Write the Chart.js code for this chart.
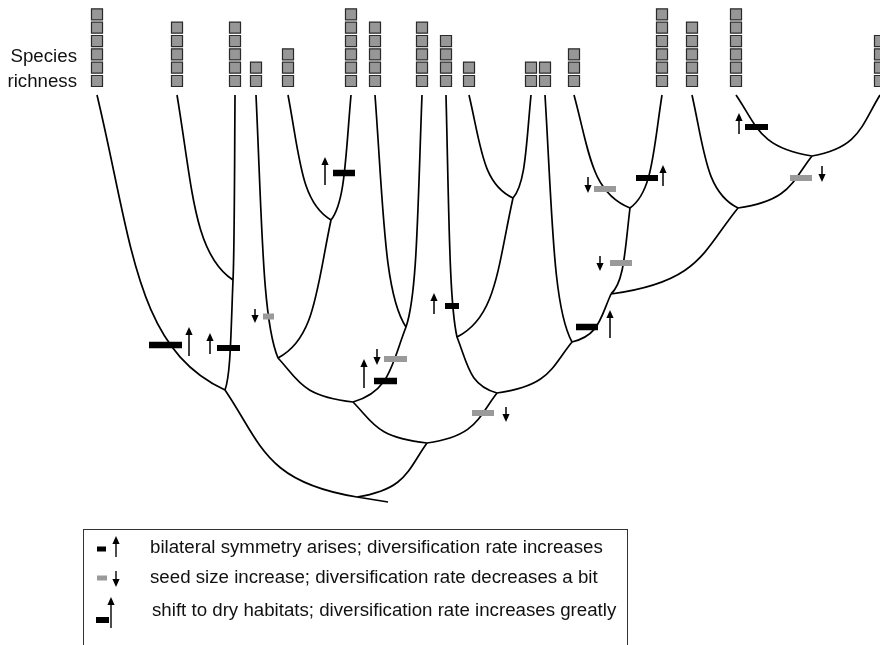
<!DOCTYPE html>
<html>
<head>
<meta charset="utf-8">
<script src="https://cdn.jsdelivr.net/npm/chart.js@4.4.1/dist/chart.umd.min.js"></script>
<style>
  body { margin: 0; background: #fff; }
</style>
</head>
<body>
<canvas id="myChart" width="880" height="645"></canvas>
<script>
// tips, left to right: position and number of species (one square each)
var tipX = [97, 177, 235, 256, 288, 351, 375, 422, 446, 469, 531, 545, 574, 662, 692, 736, 880];
var richness = [6, 5, 5, 2, 3, 6, 5, 5, 4, 2, 2, 2, 3, 6, 5, 6, 4];
var tipParent = ['B', 'A', 'A', 'F', 'H', 'H', 'G', 'G', 'I', 'J', 'J', 'K', 'M', 'M', 'N', 'O', 'O'];

// internal nodes of the tree
var cladeIds = ['A', 'B', 'C', 'D', 'E', 'F', 'G', 'H', 'I', 'J', 'K', 'L', 'M', 'N', 'O', 'root'];
var cladeX = [233, 225, 427, 353, 497, 278, 406, 331, 457, 513, 572, 611, 630, 738, 812, 357];
var cladeY = [280, 390, 443, 402, 393, 358, 327, 220, 337, 198, 342, 294, 208, 208, 156, 497];
var cladeParent = ['B', 'root', 'root', 'C', 'C', 'D', 'D', 'F', 'E', 'I', 'E', 'K', 'L', 'L', 'N', null];
var rootStem = [388, 502];

// character changes on branches: bars [xFrom, xTo, y], arrows [x, yTail, yHead]
var symmetryBars = [[217, 240, 348], [445, 459, 306], [636, 658, 178], [745, 768, 127]];
var symmetryArrows = [[210, 354, 333], [434, 314, 293], [663, 186, 165], [739, 134, 113]];
var seedBars = [[263, 274, 316.5], [384, 407, 359], [472, 494, 413], [594, 616, 189], [610, 632, 263], [790, 812, 178]];
var seedArrows = [[255, 309, 323], [377, 349, 365], [506, 407, 422], [588, 177, 193], [600, 256, 271], [822, 166, 182]];
var dryBars = [[149, 182, 345], [333, 355, 173], [374, 397, 381], [576, 598, 327]];
var dryArrows = [[189, 356, 327], [325, 185, 157], [364, 388, 359], [610, 338, 310]];

var legendLabels = [
    'bilateral symmetry arises; diversification rate increases',
    'seed size increase; diversification rate decreases a bit',
    'shift to dry habitats; diversification rate increases greatly'
];

var TIP_Y = 95;
var FONT = '18.7px "Liberation Sans", Arial, sans-serif';

// one square per species, stacked above each tip
var squares = [];
tipX.forEach(function (x, i) {
    for (var k = 0; k < richness[i]; k++) {
        squares.push({ x: x, y: 81 - k * 13.33 });
    }
});

function node(id) {
    var i = cladeIds.indexOf(id);
    return { x: cladeX[i], y: cladeY[i] };
}

function arrow(ctx, x, y0, y1, lw) {
    var dir = y1 < y0 ? -1 : 1;
    var hh = 8, hw = 3.6;
    ctx.lineWidth = lw || 1.5;
    ctx.beginPath();
    ctx.moveTo(x, y0);
    ctx.lineTo(x, y1 - dir * hh + dir);
    ctx.stroke();
    ctx.beginPath();
    ctx.moveTo(x, y1);
    ctx.lineTo(x - hw, y1 - dir * hh);
    ctx.lineTo(x + hw, y1 - dir * hh);
    ctx.closePath();
    ctx.fill();
}

var treePlugin = {
    id: 'tree',
    beforeDatasetsDraw: function (chart) {
        var ctx = chart.ctx;
        var sx = chart.scales.x, sy = chart.scales.y;
        var px = function (v) { return sx.getPixelForValue(v); };
        var py = function (v) { return sy.getPixelForValue(v); };

        function branch(c, p) {
            var dx = p.x - c.x, dy = p.y - c.y;
            ctx.moveTo(px(c.x), py(c.y));
            ctx.bezierCurveTo(px(c.x + 0.275 * dx), py(c.y + 0.5 * dy),
                px(c.x + 0.3 * dx), py(c.y + 0.86 * dy),
                px(p.x), py(p.y));
        }

        ctx.save();
        ctx.strokeStyle = '#000';
        ctx.lineWidth = 1.7;
        ctx.lineJoin = 'round';
        ctx.beginPath();
        tipX.forEach(function (x, i) {
            branch({ x: x, y: TIP_Y }, node(tipParent[i]));
        });
        cladeIds.forEach(function (id, i) {
            if (cladeParent[i]) branch(node(id), node(cladeParent[i]));
        });
        var r = node('root');
        ctx.moveTo(px(r.x), py(r.y));
        ctx.lineTo(px(rootStem[0]), py(rootStem[1]));
        ctx.stroke();
        ctx.restore();
    },
    afterDatasetsDraw: function (chart) {
        var ctx = chart.ctx;
        var sx = chart.scales.x, sy = chart.scales.y;
        var px = function (v) { return sx.getPixelForValue(v); };
        var py = function (v) { return sy.getPixelForValue(v); };

        ctx.save();
        function bars(list, color, h) {
            ctx.fillStyle = color;
            list.forEach(function (b) {
                ctx.fillRect(px(b[0]), py(b[2]) - h / 2, px(b[1]) - px(b[0]), h);
            });
        }
        function arrows(list) {
            ctx.fillStyle = '#000';
            ctx.strokeStyle = '#000';
            list.forEach(function (a) { arrow(ctx, px(a[0]), py(a[1]), py(a[2])); });
        }
        bars(symmetryBars, '#000', 6);
        bars(dryBars, '#000', 6.5);
        bars(seedBars, '#9a9a9a', 6);
        arrows(symmetryArrows);
        arrows(dryArrows);
        arrows(seedArrows);

        // label for the squares
        ctx.fillStyle = '#111';
        ctx.font = FONT;
        ctx.textAlign = 'right';
        ctx.textBaseline = 'alphabetic';
        ctx.fillText('Species', 77, 62);
        ctx.fillText('richness', 77, 87);

        // legend box
        ctx.strokeStyle = '#333';
        ctx.lineWidth = 1;
        ctx.strokeRect(83.5, 529.5, 544, 140);

        ctx.fillStyle = '#000';
        ctx.fillRect(97, 546.5, 9, 5);
        ctx.strokeStyle = '#000';
        arrow(ctx, 116, 557, 536, 1.4);

        ctx.fillStyle = '#9a9a9a';
        ctx.fillRect(97, 575.5, 10, 5);
        ctx.fillStyle = '#000';
        arrow(ctx, 116, 571, 587, 1.4);

        ctx.fillRect(96, 617, 13, 6);
        arrow(ctx, 111, 628, 597, 1.4);

        ctx.fillStyle = '#111';
        ctx.textAlign = 'left';
        ctx.textBaseline = 'middle';
        ctx.fillText(legendLabels[0], 150, 548);
        ctx.fillText(legendLabels[1], 150, 578);
        ctx.fillText(legendLabels[2], 152, 611);
        ctx.restore();
    }
};

var ctx = document.getElementById('myChart').getContext('2d');
var myChart = new Chart(ctx, {
    type: 'scatter',
    data: {
        datasets: [{
            label: 'Species',
            data: squares,
            pointStyle: 'rect',
            pointRadius: 7.8,
            backgroundColor: '#979797',
            borderColor: '#2a2a2a',
            borderWidth: 1.2,
            clip: false
        }]
    },
    options: {
        responsive: false,
        animation: false,
        devicePixelRatio: 1,
        layout: { padding: 0, autoPadding: false },
        scales: {
            x: { type: 'linear', min: 0, max: 880, display: false },
            y: { type: 'linear', min: 0, max: 645, reverse: true, display: false }
        },
        plugins: {
            legend: { display: false },
            tooltip: { enabled: false }
        }
    },
    plugins: [treePlugin]
});
</script>
</body>
</html>
